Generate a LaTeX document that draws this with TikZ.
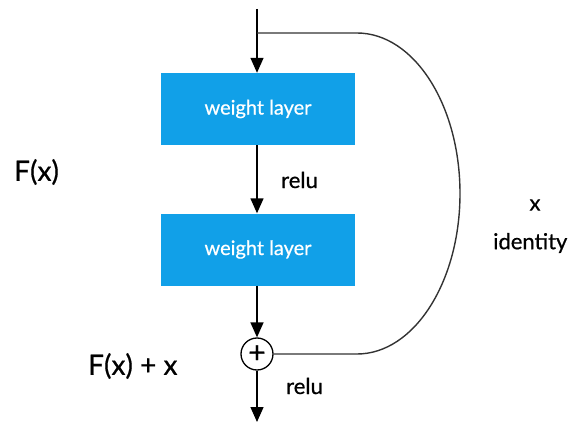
\documentclass[tikz,border=0pt]{standalone}
\usepackage{fontspec}
\setmainfont{Lato}[FakeBold=0.6]
\usetikzlibrary{arrows.meta}
\definecolor{boxblue}{RGB}{17,160,232}
\tikzset{
  layerbox/.style={fill=boxblue, draw=none, minimum width=194pt, minimum height=72pt, inner sep=0pt, text=white, font=\fontsize{20}{24}\selectfont},
  flow/.style={line width=1.4pt, -{Triangle[width=13pt,length=15pt]}},
  skip/.style={line width=1.4pt, draw=black!80},
  lbl/.style={inner sep=0pt, font=\fontsize{22}{26}\selectfont},
  biglbl/.style={inner sep=0pt, font=\fontsize{28}{32}\selectfont},
}
\begin{document}
\begin{tikzpicture}[x=1pt,y=-1pt]
\useasboundingbox (0,0) rectangle (571,428);
\coordinate (top) at (257,9);
\coordinate (split) at (257,33);
\coordinate (out) at (257,422);
\node[layerbox] (w1) at (258,109) {weight layer};
\node[layerbox] (w2) at (258,249.5) {weight layer};
\node[circle, draw, line width=1.3pt, minimum size=32pt, inner sep=0pt, font=\fontsize{30}{30}\selectfont] (plus) at (257,354) {};
\node[inner sep=0pt, font=\fontsize{30}{30}\selectfont] (plussign) at (plus.center) {+};
\draw[flow] (top) -- (w1.north -| top);
\draw[flow] (w1.south -| top) -- (w2.north -| top);
\draw[flow] (w2.south -| top) -- (plus.north);
\draw[flow] (plus.south) -- (out);
\draw[skip] (split) -- (357,33) .. controls (413.9,33) and (460,104.9) .. (460,193.5)
  .. controls (460,282.1) and (413.9,354) .. (357,354) -- (plus.east);
\node[lbl, anchor=west] (r1) at (281,180) {relu};
\node[lbl, anchor=west] (r2) at (286,386) {relu};
\node[biglbl, anchor=west] (fx) at (14,172) {F(x)};
\node[biglbl, anchor=west] (fxx) at (88,366) {F(x) + x};
\node[lbl] (xl) at (535,205) {x};
\node[lbl, anchor=west] (id) at (493,243) {identity};
\end{tikzpicture}
\end{document}
